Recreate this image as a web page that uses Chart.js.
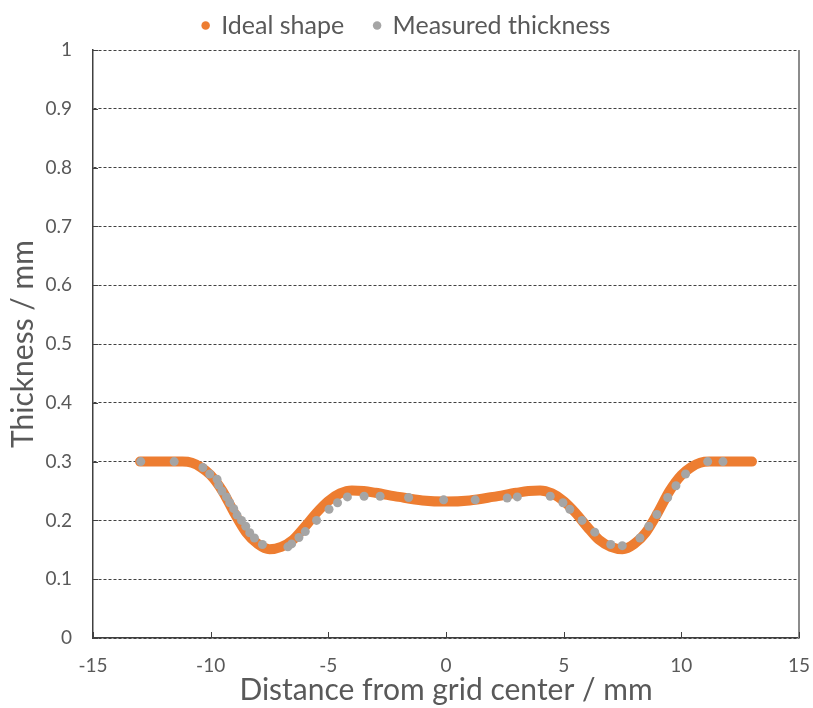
<!DOCTYPE html>
<html lang="en">
<head>
    <meta charset="UTF-8">
    <title>Thickness profile</title>
    <style>
        html, body { margin: 0; padding: 0; background: #fff; }
        #wrap { width: 813px; height: 708px; }
    </style>
</head>
<body>
    <div id="wrap"><canvas id="myChart" width="813" height="708"></canvas></div>
    <script src="https://cdn.jsdelivr.net/npm/chart.js"></script>
    <script>
        // ideal profile
        const idealX = [-13, -12, -11.2, -10.8, -10.4, -10, -9.5, -9, -8.5, -8, -7.5, -7, -6.5, -6, -5.5, -5, -4.5, -4, -3.5, -3, -2, -1, 0,
                        1, 2, 3, 3.5, 4, 4.5, 5, 5.5, 6, 6.5, 7, 7.5, 8, 8.5, 9, 9.5, 10, 10.4, 10.8, 11.2, 12, 13];
        const idealY = [0.300, 0.300, 0.300, 0.298, 0.290, 0.277, 0.250, 0.213, 0.180, 0.160, 0.151, 0.155, 0.167, 0.189, 0.213, 0.233, 0.246, 0.251, 0.250, 0.247, 0.240, 0.234, 0.232,
                        0.234, 0.240, 0.247, 0.250, 0.251, 0.246, 0.233, 0.213, 0.189, 0.167, 0.155, 0.151, 0.160, 0.180, 0.213, 0.250, 0.277, 0.290, 0.298, 0.300, 0.300, 0.300];

        // measured thickness points
        const measX = [-12.97, -11.55, -10.33, -10.04, -9.73, -9.66, -9.52, -9.33, -9.19, -9.02, -8.88, -8.69, -8.51, -8.34, -8.14, -7.80,
                       -6.72, -6.56, -6.25, -5.98, -5.50, -4.97, -4.61, -4.19, -3.48, -2.80, -1.59, -0.10, 1.24, 2.60, 3.03,
                       4.43, 4.97, 5.26, 5.78, 6.32, 7.00, 7.49, 8.24, 8.62, 8.96, 9.42, 9.77, 10.18, 11.12, 11.77];
        const measY = [0.300, 0.300, 0.290, 0.279, 0.270, 0.260, 0.250, 0.240, 0.230, 0.220, 0.209, 0.200, 0.190, 0.179, 0.170, 0.159,
                       0.155, 0.160, 0.171, 0.181, 0.200, 0.219, 0.230, 0.240, 0.241, 0.241, 0.239, 0.235, 0.235, 0.238, 0.240,
                       0.241, 0.230, 0.219, 0.200, 0.180, 0.159, 0.157, 0.170, 0.190, 0.210, 0.239, 0.259, 0.279, 0.300, 0.300];

        const xTicks = [-15, -10, -5, 0, 5, 10, 15];
        const yTicks = [0, 0.1, 0.2, 0.3, 0.4, 0.5, 0.6, 0.7, 0.8, 0.9, 1];

        const seriesNames = ['Ideal shape', 'Measured thickness'];
        const colors = ['#ED7D31', '#A5A5A5'];
        const textColor = '#595959';
        const fontFamily = 'Lato, "Open Sans", sans-serif';

        const toPoints = (xs, ys) => xs.map((x, i) => ({ x: x, y: ys[i] }));

        // fixed legend height, and lift the legend row (its padding also pads the top)
        const legendHeight = {
            id: 'legendHeight',
            beforeInit(chart) {
                const legend = chart.legend;
                const fit = legend.fit;
                legend.fit = function () { fit.call(this); this.height = 50; };
                const draw = legend.draw;
                legend.draw = function () {
                    const top = this.top;
                    this.top = top - 17;
                    draw.call(this);
                    this.top = top;
                };
            }
        };

        // right border plus the small inward tick marks
        const frame = {
            id: 'frame',
            afterDraw(chart) {
                const ctx = chart.ctx;
                const a = chart.chartArea;
                const xs = chart.scales.x, ys = chart.scales.y;
                ctx.save();
                ctx.strokeStyle = '#8C8C8C';
                ctx.lineWidth = 2;
                ctx.beginPath();
                ctx.moveTo(a.right, a.top);
                ctx.lineTo(a.right, a.bottom);
                ctx.stroke();
                ctx.strokeStyle = '#404040';
                ctx.lineWidth = 1;
                ctx.beginPath();
                xTicks.forEach(v => {
                    const px = Math.round(xs.getPixelForValue(v)) + 0.5;
                    ctx.moveTo(px, a.bottom);
                    ctx.lineTo(px, a.bottom - 6);
                });
                yTicks.forEach(v => {
                    const py = Math.round(ys.getPixelForValue(v)) + 0.5;
                    ctx.moveTo(a.left, py);
                    ctx.lineTo(a.left + 5, py);
                });
                ctx.stroke();
                ctx.restore();
            }
        };

        const config = {
            type: 'scatter',
            data: {
                datasets: [{
                    label: seriesNames[0],
                    data: toPoints(idealX, idealY),
                    showLine: true,
                    borderColor: colors[0],
                    backgroundColor: colors[0],
                    borderWidth: 10,
                    borderCapStyle: 'round',
                    borderJoinStyle: 'round',
                    cubicInterpolationMode: 'monotone',
                    pointRadius: 0,
                    pointHoverRadius: 0,
                    order: 1
                }, {
                    label: seriesNames[1],
                    data: toPoints(measX, measY),
                    showLine: false,
                    borderColor: colors[1],
                    backgroundColor: colors[1],
                    pointRadius: 4.5,
                    pointBorderWidth: 0,
                    order: 0
                }]
            },
            options: {
                responsive: false,
                animation: false,
                layout: { padding: 0 },
                plugins: {
                    tooltip: { enabled: false },
                    legend: {
                        position: 'top',
                        labels: {
                            usePointStyle: true,
                            boxWidth: 6,
                            boxHeight: 6,
                            padding: 30,
                            color: textColor,
                            font: { family: fontFamily, size: 25 },
                            generateLabels(chart) {
                                return chart.data.datasets.map((ds, i) => ({
                                    text: ds.label,
                                    fillStyle: colors[i],
                                    strokeStyle: colors[i],
                                    lineWidth: 0,
                                    pointStyle: 'circle',
                                    fontColor: textColor,
                                    datasetIndex: i
                                }));
                            }
                        }
                    }
                },
                scales: {
                    x: {
                        type: 'linear',
                        min: -15,
                        max: 15,
                        afterBuildTicks(scale) { scale.ticks = xTicks.map(v => ({ value: v })); },
                        afterFit(scale) {
                            scale.height = 70;
                            scale.paddingLeft = 0;
                            scale.paddingRight = 14;
                        },
                        grid: { display: false, drawTicks: false },
                        border: { display: true, color: '#404040', width: 1.5 },
                        ticks: {
                            padding: 16,
                            color: textColor,
                            font: { family: fontFamily, size: 19 },
                            maxRotation: 0
                        },
                        title: {
                            display: true,
                            text: 'Distance from grid center / mm',
                            color: textColor,
                            font: { family: fontFamily, size: 30 },
                            padding: { top: 0, bottom: 0 }
                        }
                    },
                    y: {
                        type: 'linear',
                        min: 0,
                        max: 1,
                        afterBuildTicks(scale) { scale.ticks = yTicks.map(v => ({ value: v })); },
                        afterFit(scale) { scale.width = 93; },
                        grid: { color: '#404040', lineWidth: 1, drawTicks: false },
                        border: { display: true, color: '#404040', width: 1.5, dash: [3, 2] },
                        ticks: {
                            padding: 21,
                            color: textColor,
                            font: { family: fontFamily, size: 19 },
                            callback: v => String(Math.round(v * 10) / 10)
                        },
                        title: {
                            display: true,
                            text: 'Thickness / mm',
                            color: textColor,
                            font: { family: fontFamily, size: 30 },
                            padding: { top: 5, bottom: 0 }
                        }
                    }
                }
            },
            plugins: [legendHeight, frame]
        };

        new Chart(document.getElementById('myChart'), config);
    </script>
</body>
</html>
